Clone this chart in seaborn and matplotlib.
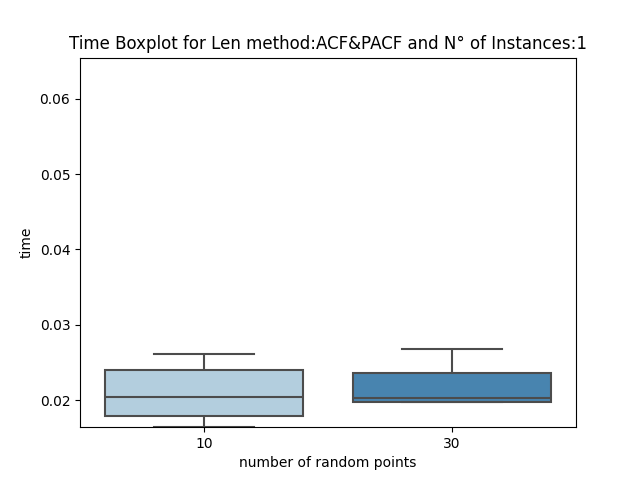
import pandas as pd
import matplotlib
matplotlib.use("Agg")
import matplotlib.pyplot as plt
import seaborn as sns

# tiempos (min, q1, mediana, q3, max)
times_10 = [0.01641, 0.01787, 0.0204, 0.02399, 0.02611]
times_30 = [0.01972, 0.01973, 0.02027, 0.02359, 0.02678]
points = ["10", "30"]

df = pd.DataFrame({
    "number of random points": [points[0]] * len(times_10) + [points[1]] * len(times_30),
    "time": times_10 + times_30,
})

fig, ax = plt.subplots(figsize=(6.4, 4.8), dpi=100)
sns.boxplot(data=df, x="number of random points", y="time",
            hue="number of random points", palette="Blues", legend=False,
            linecolor="#4c4c4c", linewidth=1.5, showfliers=False, ax=ax)
ax.set_ylim(0.01641, 0.06545)
ax.set_title("Time Boxplot for Len method:ACF&PACF and N° of Instances:1")
plt.savefig("out.png")
plt.close()
